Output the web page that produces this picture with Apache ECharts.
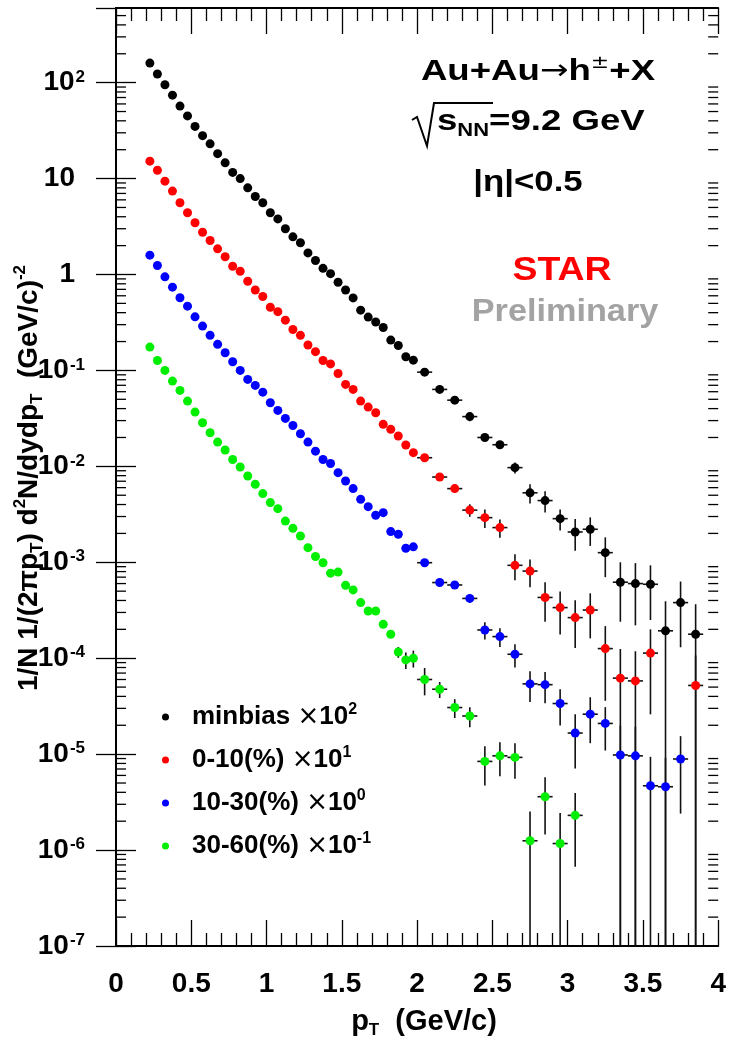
<!DOCTYPE html>
<html>
<head>
<meta charset="utf-8">
<script src="https://cdn.jsdelivr.net/npm/echarts@6/dist/echarts.min.js"></script>
<style>
  html, body { margin: 0; padding: 0; background: #fff; }
  #chart { width: 729px; height: 1050px; }
</style>
</head>
<body>
<div id="chart"></div>
<script>
// pT bin centres (GeV/c): 0.05 wide bins below 2, 0.1 wide above
const pt = [0.225, 0.275, 0.325, 0.375, 0.425, 0.475, 0.525, 0.575, 0.625, 0.675,
  0.725, 0.775, 0.825, 0.875, 0.925, 0.975, 1.025, 1.075, 1.125, 1.175,
  1.225, 1.275, 1.325, 1.375, 1.425, 1.475, 1.525, 1.575, 1.625, 1.675,
  1.725, 1.775, 1.825, 1.875, 1.925, 1.975,
  2.05, 2.15, 2.25, 2.35, 2.45, 2.55, 2.65, 2.75, 2.85, 2.95,
  3.05, 3.15, 3.25, 3.35, 3.45, 3.55, 3.65, 3.75, 3.85];

const minbias = [160, 123, 95, 74, 57, 45, 35, 28, 23, 18.2,
  14.6, 11.6, 10.0, 8.0, 6.5, 5.6, 4.4, 3.8, 3.0, 2.47,
  2.14, 1.68, 1.40, 1.16, 1.02, 0.83, 0.69, 0.57, 0.425, 0.36,
  0.32, 0.28, 0.207, 0.182, 0.139, 0.128,
  0.096, 0.0634, 0.049, 0.033, 0.020, 0.0168, 0.0097, 0.0053, 0.0044, 0.00285,
  0.00207, 0.00221, 0.00126, 6.2e-4, 6.0e-4, 5.9e-4, 1.93e-4, 3.8e-4, 1.78e-4];
const minbiasErr = [0, 0, 0, 0, 0, 0, 0, 0, 0, 0, 0, 0, 0, 0, 0, 0, 0, 0, 0, 0,
  0, 0, 0, 0, 0, 0, 0, 0, 0, 0, 0, 0, 0, 0, 0, 0,
  0.004, 0.003, 0.003, 0.0035, 0.0015, 0.0012, 0.0013, 0.0012, 0.0011, 0.0007,
  0.00075, 0.00073, 0.00056, 0.00038, 0.00038, 0.00034, 0.0002, 0.00025, 0.000187];

const cent0010 = [15.2, 12.2, 9.4, 7.4, 5.6, 4.4, 3.46, 2.76, 2.26, 1.85,
  1.53, 1.22, 1.08, 0.85, 0.69, 0.59, 0.456, 0.41, 0.334, 0.267,
  0.232, 0.184, 0.157, 0.127, 0.117, 0.093, 0.0715, 0.0634, 0.0479, 0.0415,
  0.0362, 0.0274, 0.0243, 0.0207, 0.0167, 0.0139,
  0.0123, 0.00774, 0.00586, 0.0035, 0.00292, 0.0023, 9.3e-4, 8.1e-4, 4.3e-4, 3.37e-4,
  2.65e-4, 3.18e-4, 1.26e-4, 6.2e-5, 5.8e-5, 1.13e-4, null, null, 5.2e-5];
const cent0010Err = [0, 0, 0, 0, 0, 0, 0, 0, 0, 0, 0, 0, 0, 0, 0, 0, 0, 0, 0, 0,
  0, 0, 0, 0, 0, 0, 0, 0, 0, 0, 0, 0, 0, 0, 0, 0,
  0.001, 0.0006, 0.0005, 0.00052, 0.00064, 0.0005, 0.00028, 0.00026, 0.00019, 0.00016,
  0.000137, 0.000157, 0.00009, 0.000063, 0.00006, 0.000087, 0, 0, 0.000055];

const cent1030 = [1.59, 1.24, 0.946, 0.738, 0.572, 0.468, 0.362, 0.29, 0.232, 0.187,
  0.153, 0.123, 0.1, 0.0806, 0.0698, 0.0594, 0.046, 0.0383, 0.0316, 0.0267,
  0.0219, 0.0179, 0.0144, 0.0118, 0.0107, 0.0086, 0.00703, 0.00586, 0.00453, 0.0038,
  0.00309, 0.00329, 0.00209, 0.00196, 0.0014, 0.00145,
  9.9e-4, 6.15e-4, 5.8e-4, 4.2e-4, 1.97e-4, 1.68e-4, 1.1e-4, 5.4e-5, 5.3e-5, 3.37e-5,
  1.66e-5, 2.61e-5, 2.09e-5, 9.8e-6, 9.6e-6, 4.68e-6, 4.57e-6, 8.9e-6, null];
const cent1030Err = [0, 0, 0, 0, 0, 0, 0, 0, 0, 0, 0, 0, 0, 0, 0, 0, 0, 0, 0, 0,
  0, 0, 0, 0, 0, 0, 0, 0, 0, 0, 0, 0, 0, 0, 0, 0,
  0.00006, 0.00004, 0.00004, 0.00004, 0.00004, 0.000037, 0.00003, 0.000019, 0.000019, 0.0000138,
  0.0000095, 0.0000131, 0.00001, 0.00001, 0.0000097, 0.0000047, 0.0000046, 0.0000065, 0];

const cent3060 = [0.175, 0.127, 0.1, 0.0774, 0.0619, 0.0479, 0.0368, 0.0285, 0.0224, 0.0179,
  0.0148, 0.0118, 0.00984, 0.00793, 0.00649, 0.0052, 0.00419, 0.00362, 0.00269, 0.00226,
  0.00188, 0.00142, 0.00115, 9.9e-4, 7.7e-4, 7.9e-4, 5.75e-4, 5.15e-4, 3.8e-4, 3.11e-4,
  3.11e-4, 2.26e-4, 1.78e-4, 1.16e-4, 9.6e-5, 1.0e-4,
  6.0e-5, 4.75e-5, 3.06e-5, 2.5e-5, 8.4e-6, 9.6e-6, 9.25e-6, 1.25e-6, 3.6e-6, 1.17e-6,
  2.3e-6, null, null, null, null, null, null, null, null];
const cent3060Err = [0, 0, 0, 0, 0, 0, 0, 0, 0, 0, 0, 0, 0, 0, 0, 0, 0, 0, 0, 0,
  0, 0, 0, 0, 0, 0, 0, 0, 0, 0, 0, 0.000012, 0.000014, 0.000015, 0.000019, 0.00002,
  0.000019, 0.000009, 0.0000068, 0.0000059, 0.0000037, 0.0000037, 0.0000037, 0.00000127, 0.00000215, 0.00000126,
  0.00000163, 0, 0, 0, 0, 0, 0, 0, 0];

const yMin = 1e-7, yMax = 600;
const FONT = 'Liberation Sans';

function points(vals) {
  const out = [];
  pt.forEach((x, i) => { if (vals[i] != null) out.push([x, vals[i]]); });
  return out;
}

function errorBars(vals, errs) {
  const data = [];
  pt.forEach((x, i) => {
    if (vals[i] == null) return;
    data.push([x, vals[i], errs[i], x < 2 ? 0.025 : 0.05]);
  });
  return {
    type: 'custom',
    silent: true,
    clip: true,
    z: 2,
    encode: { x: 0, y: 1 },
    data: data,
    renderItem: function (params, api) {
      const x = api.value(0), y = api.value(1), e = api.value(2), hw = api.value(3);
      const lo = api.coord([x, Math.max(y - e, yMin)]);
      const hi = api.coord([x, y + e]);
      const l = api.coord([x - hw, y]);
      const r = api.coord([x + hw, y]);
      const style = { stroke: '#111', lineWidth: 1.6 };
      return {
        type: 'group',
        children: [
          { type: 'line', shape: { x1: lo[0], y1: lo[1], x2: hi[0], y2: hi[1] }, style: style },
          { type: 'line', shape: { x1: l[0], y1: l[1], x2: r[0], y2: r[1] }, style: style }
        ]
      };
    }
  };
}

// log-spaced minor ticks (2..9 x 10^n) on both y edges
const yMinor = [];
for (let n = -7; n <= 2; n++) {
  for (let k = 2; k <= 9; k++) {
    const v = k * Math.pow(10, n);
    if (v < yMax) yMinor.push([0, v]);
  }
}

const chart = echarts.init(document.getElementById('chart'));

const supRich = {
  b: { fontSize: 28, fontWeight: 'bold', fontFamily: FONT, color: '#000' },
  p: { fontSize: 28, fontWeight: 'bold', fontFamily: FONT, color: '#000', padding: [0, 10, 0, 0] },
  s: { fontSize: 17, fontWeight: 'bold', fontFamily: FONT, color: '#000', verticalAlign: 'top', padding: [0, 0, 0, 1] }
};

const legendNames = {
  'minbias': '{f|minbias }{x|×}{t|10}{s|2}',
  '0-10(%)': '{f|0-10(%) }{x|×}{t|10}{s|1}',
  '10-30(%)': '{f|10-30(%) }{x|×}{t|10}{s|0}',
  '30-60(%)': '{f|30-60(%) }{x|×}{t|10}{s|-1}'
};

function scatter(name, vals, color) {
  return {
    type: 'scatter',
    name: name,
    data: points(vals),
    symbol: 'circle',
    symbolSize: 9,
    z: 3,
    itemStyle: { color: color, opacity: 1 }
  };
}

const tickAxisX = {
  type: 'value', min: 0, max: 4, interval: 0.5,
  axisLine: { show: true, onZero: false, lineStyle: { color: '#000', width: 2 } },
  axisTick: { show: true, inside: true, length: 26, lineStyle: { color: '#000', width: 1.3 } },
  minorTick: { show: true, splitNumber: 5, length: 13, lineStyle: { color: '#000', width: 1.3 } },
  splitLine: { show: false }
};

chart.setOption({
  animation: false,
  backgroundColor: '#fff',
  grid: { left: 116, right: 7, top: 8, bottom: 104, containLabel: false },
  xAxis: [
    Object.assign({}, tickAxisX, {
      position: 'bottom',
      axisLabel: { show: true, margin: 24, fontSize: 28, fontWeight: 'bold', fontFamily: FONT, color: '#000',
        formatter: v => String(v) }
    }),
    Object.assign({}, tickAxisX, { position: 'top', axisLabel: { show: false } })
  ],
  yAxis: [
    {
      type: 'log', logBase: 10, min: yMin, max: yMax, position: 'left',
      axisLine: { show: true, lineStyle: { color: '#000', width: 2 } },
      axisTick: { show: true, inside: true, length: 20, lineStyle: { color: '#000', width: 1.3 } },
      splitLine: { show: false },
      axisLabel: {
        margin: 31, showMaxLabel: false,
        formatter: function (v) {
          const n = Math.round(Math.log10(v));
          if (n === 0) return '{p|1}';
          if (n === 1) return '{p|10}';
          return '{b|10}{s|' + n + '}';
        },
        rich: supRich
      }
    },
    {
      type: 'log', logBase: 10, min: yMin, max: yMax, position: 'right',
      axisLine: { show: true, lineStyle: { color: '#000', width: 2 } },
      axisTick: { show: true, inside: true, length: 20, lineStyle: { color: '#000', width: 1.3 } },
      splitLine: { show: false },
      axisLabel: { show: false }
    }
  ],
  legend: {
    data: ['minbias', '0-10(%)', '10-30(%)', '30-60(%)'],
    orient: 'vertical',
    left: 157, top: 697,
    itemGap: 15,
    icon: 'circle',
    itemWidth: 7, itemHeight: 7,
    selectedMode: false,
    formatter: name => legendNames[name],
    textStyle: {
      rich: {
        f: { fontSize: 26, fontWeight: 'bold', fontFamily: FONT, color: '#000', lineHeight: 30, padding: [0, 0, 0, 18] },
        t: { fontSize: 26, fontWeight: 'bold', fontFamily: FONT, color: '#000', lineHeight: 30 },
        x: { fontSize: 26, fontFamily: 'DejaVu Sans', color: '#000', lineHeight: 30 },
        s: { fontSize: 16, fontWeight: 'bold', fontFamily: FONT, color: '#000', verticalAlign: 'top', lineHeight: 30 }
      }
    }
  },
  series: [
    {
      type: 'custom', silent: true, z: 1, data: yMinor, encode: { x: 0, y: 1 },
      renderItem: function (params, api) {
        const cs = params.coordSys;
        const yy = api.coord([0, api.value(1)])[1];
        const style = { stroke: '#000', lineWidth: 1.3 };
        return {
          type: 'group',
          children: [
            { type: 'line', shape: { x1: cs.x, y1: yy, x2: cs.x + 10, y2: yy }, style: style },
            { type: 'line', shape: { x1: cs.x + cs.width - 10, y1: yy, x2: cs.x + cs.width, y2: yy }, style: style }
          ]
        };
      }
    },
    errorBars(minbias, minbiasErr),
    errorBars(cent0010, cent0010Err),
    errorBars(cent1030, cent1030Err),
    errorBars(cent3060, cent3060Err),
    scatter('minbias', minbias, '#000000'),
    scatter('0-10(%)', cent0010, '#ff0000'),
    scatter('10-30(%)', cent1030, '#0000ff'),
    scatter('30-60(%)', cent3060, '#00ee00')
  ],
  graphic: [
    {
      type: 'text', x: 29, y: 478, rotation: Math.PI / 2,
      style: {
        text: '{a|1/N 1/(2πp}{u|T}{a|) d}{s|2}{a|N/dydp}{u|T}{a|  (GeV/c)}{s|-2}',
        align: 'center', verticalAlign: 'middle',
        rich: {
          a: { fontSize: 28, fontWeight: 'bold', fontFamily: FONT, fill: '#000', lineHeight: 34 },
          u: { fontSize: 17, fontWeight: 'bold', fontFamily: FONT, fill: '#000', verticalAlign: 'bottom', lineHeight: 34 },
          s: { fontSize: 17, fontWeight: 'bold', fontFamily: FONT, fill: '#000', verticalAlign: 'top', lineHeight: 34 }
        }
      }
    },
    {
      type: 'text', x: 424, y: 1022,
      style: {
        text: '{a|p}{u|T}{a|  (GeV/c)}',
        align: 'center', verticalAlign: 'middle',
        rich: {
          a: { fontSize: 29, fontWeight: 'bold', fontFamily: FONT, fill: '#000', lineHeight: 34 },
          u: { fontSize: 17, fontWeight: 'bold', fontFamily: FONT, fill: '#000', verticalAlign: 'bottom', lineHeight: 34 }
        }
      }
    },
    {
      type: 'text', x: 538, y: 72, scaleX: 1.22,
      style: {
        text: '{a|Au+Au}{r|→}{a|h}{s|±}{a|+X}',
        align: 'center', verticalAlign: 'middle',
        rich: {
          a: { fontSize: 30, fontWeight: 'bold', fontFamily: FONT, fill: '#000', lineHeight: 36 },
          r: { fontSize: 28, fontFamily: 'DejaVu Sans', fill: '#000', lineHeight: 36 },
          s: { fontSize: 18, fontFamily: 'DejaVu Sans', fill: '#000', verticalAlign: 'top', lineHeight: 36 }
        }
      }
    },
    {
      type: 'polyline',
      shape: { points: [[412, 120], [417, 117], [427, 146], [434, 103], [493, 103]] },
      style: { stroke: '#000', lineWidth: 2, fill: null }
    },
    {
      type: 'text', x: 437, y: 122, scaleX: 1.22,
      style: {
        text: '{a|s}{u|NN}{a|=9.2 GeV}',
        align: 'left', verticalAlign: 'middle',
        rich: {
          a: { fontSize: 30, fontWeight: 'bold', fontFamily: FONT, fill: '#000', lineHeight: 36 },
          u: { fontSize: 18, fontWeight: 'bold', fontFamily: FONT, fill: '#000', verticalAlign: 'bottom', lineHeight: 36 }
        }
      }
    },
    {
      type: 'text', x: 528, y: 183, scaleX: 1.16,
      style: {
        text: '|η|<0.5', align: 'center', verticalAlign: 'middle',
        fontSize: 30, fontWeight: 'bold', fontFamily: FONT, fill: '#000'
      }
    },
    {
      type: 'text', x: 562, y: 271, scaleX: 1.1,
      style: {
        text: 'STAR', align: 'center', verticalAlign: 'middle',
        fontSize: 34, fontWeight: 'bold', fontFamily: FONT, fill: '#ff0000'
      }
    },
    {
      type: 'text', x: 565, y: 312, scaleX: 1.07,
      style: {
        text: 'Preliminary', align: 'center', verticalAlign: 'middle',
        fontSize: 32, fontWeight: 'bold', fontFamily: FONT, fill: '#a3a3a3'
      }
    }
  ]
});
</script>
</body>
</html>
